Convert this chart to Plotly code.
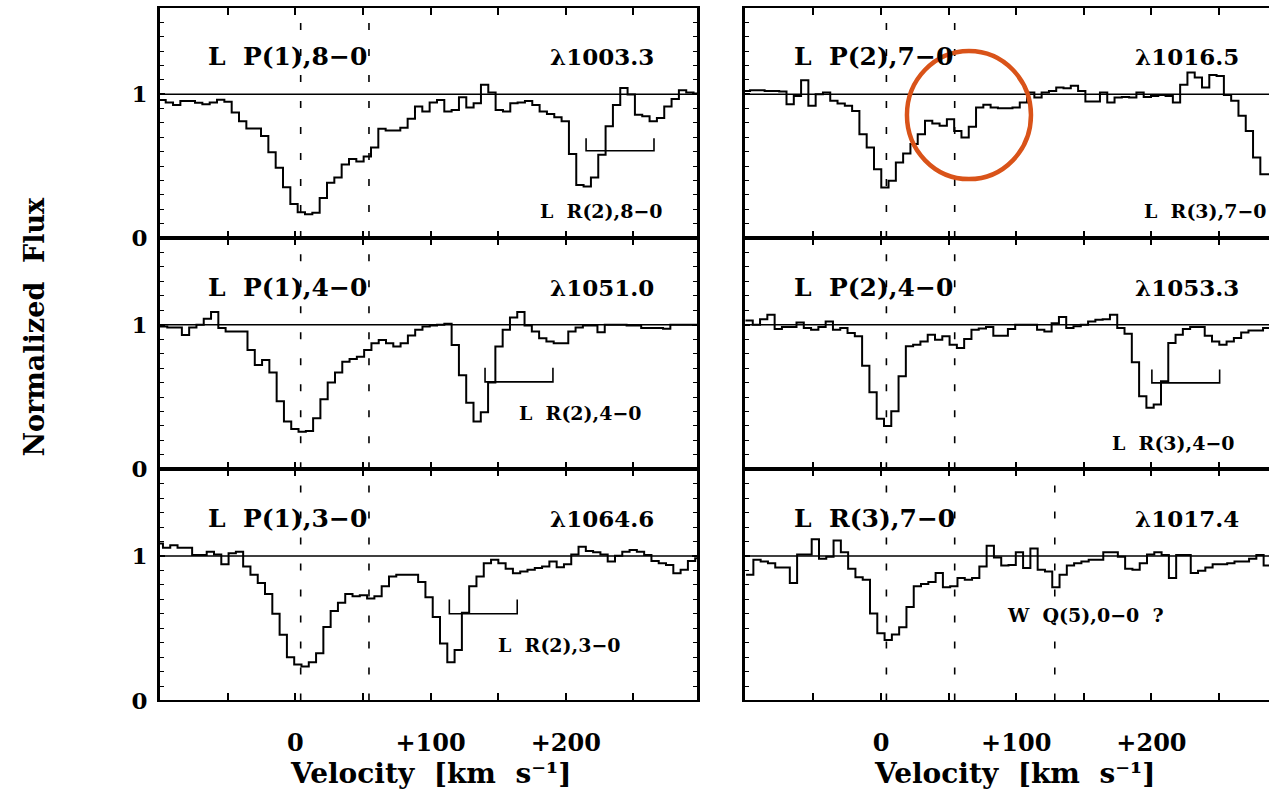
import plotly.graph_objects as go

FONT = "DejaVu Serif"
BLACK = "#000000"
CIRCLE_COLOR = "#D95319"

# ---------------- data ----------------
# velocity grid of each panel: first bin edge [km/s] and bin width [km/s]
tl_v0, tl_dv = -101.2, 5.42
ml_v0, ml_dv = -100.0, 5.39
bl_v0, bl_dv = -103.2, 5.39
tr_v0, tr_dv = -102.2, 5.39
mr_v0, mr_dv = -100.2, 5.39
br_v0, br_dv = -99.75, 5.39

# normalized flux per bin
tl_flux = [0.959, 0.943, 0.925, 0.952, 0.952, 0.941, 0.93, 0.943, 0.962, 0.948,
           0.872, 0.812, 0.762, 0.762, 0.71, 0.596, 0.489, 0.353, 0.237, 0.18,
           0.165, 0.176, 0.278, 0.385, 0.421, 0.512, 0.55, 0.533, 0.567, 0.63,
           0.76, 0.748, 0.748, 0.766, 0.83, 0.914, 0.88, 0.943, 0.959, 0.88,
           0.891, 0.978, 0.907, 0.937, 1.066, 1.012, 0.891, 0.88, 0.937, 0.943,
           0.953, 0.925, 0.88, 0.862, 0.839, 0.812, 0.585, 0.369, 0.358, 0.421,
           0.58, 0.778, 0.925, 1.043, 0.998, 0.857, 0.846, 0.812, 0.834, 0.914,
           0.966, 1.027, 1.011, 1.005]
ml_flux = [0.988, 0.981, 0.981, 0.93, 0.981, 1.0, 1.042, 1.088, 0.977, 0.953,
           0.953, 0.953, 0.826, 0.721, 0.756, 0.67, 0.47, 0.33, 0.279, 0.26,
           0.265, 0.353, 0.484, 0.6, 0.67, 0.744, 0.763, 0.779, 0.826, 0.872,
           0.895, 0.872, 0.849, 0.872, 0.926, 0.965, 0.988, 0.995, 1.0, 1.007,
           0.86, 0.651, 0.46, 0.33, 0.395, 0.6, 0.849, 0.965, 1.051, 1.088,
           0.995, 0.953, 0.907, 0.884, 0.872, 0.872, 0.953, 0.981, 0.995, 0.995,
           0.949, 1.0, 1.0, 1.0, 0.995, 0.995, 0.977, 0.977, 0.977, 0.972,
           1.0, 1.0, 1.0, 1.0]
bl_flux = [1.087, 1.057, 1.075, 1.057, 1.057, 1.007, 1.007, 1.03, 1.011, 0.943,
           1.018, 1.03, 0.927, 0.87, 0.813, 0.737, 0.6, 0.454, 0.299, 0.249,
           0.235, 0.265, 0.326, 0.509, 0.619, 0.676, 0.737, 0.721, 0.728, 0.705,
           0.721, 0.79, 0.858, 0.87, 0.87, 0.87, 0.82, 0.715, 0.578, 0.395,
           0.265, 0.349, 0.607, 0.79, 0.858, 0.95, 0.973, 0.95, 0.911, 0.881,
           0.893, 0.904, 0.916, 0.927, 0.961, 0.922, 0.943, 1.011, 1.064, 1.034,
           1.025, 1.011, 0.961, 1.002, 1.03, 1.041, 1.03, 1.007, 0.966, 0.95,
           0.938, 0.881, 0.904, 0.966, 0.984]
tr_flux = [1.023, 1.028, 1.028, 1.023, 1.023, 1.019, 0.931, 0.988, 1.097, 0.919,
           1.0, 1.012, 0.954, 0.935, 0.919, 0.884, 0.722, 0.63, 0.479, 0.352,
           0.398, 0.525, 0.588, 0.653, 0.722, 0.815, 0.796, 0.78, 0.826, 0.745,
           0.699, 0.773, 0.907, 0.926, 0.907, 0.903, 0.903, 0.907, 0.942, 1.012,
           0.977, 1.012, 1.023, 1.046, 1.042, 1.058, 1.023, 0.949, 0.949, 1.012,
           0.942, 0.977, 0.981, 0.977, 1.012, 0.981, 0.988, 0.995, 0.988, 0.942,
           1.065, 1.15, 1.116, 1.046, 1.134, 1.127, 0.995, 0.954, 0.85, 0.745,
           0.56, 0.444, 0.444]
mr_flux = [1.03, 1.0, 1.039, 1.069, 0.97, 0.984, 0.984, 1.016, 0.977, 0.966,
           0.984, 1.023, 0.966, 0.977, 0.943, 0.92, 0.717, 0.533, 0.349, 0.299,
           0.402, 0.644, 0.851, 0.862, 0.885, 0.931, 0.897, 0.92, 0.862, 0.839,
           0.901, 0.966, 0.975, 0.984, 0.924, 0.924, 0.97, 1.0, 1.0, 1.0,
           0.966, 0.954, 1.011, 1.053, 0.977, 0.989, 1.0, 1.023, 1.034, 1.039,
           1.069, 0.977, 0.938, 0.74, 0.506, 0.425, 0.448, 0.609, 0.874, 0.931,
           0.97, 0.984, 0.984, 0.924, 0.885, 0.862, 0.885, 0.908, 0.947, 0.961,
           0.961, 0.977]
br_flux = [0.87, 0.973, 0.961, 0.95, 0.92, 0.92, 0.813, 1.011, 1.011, 1.116,
           0.98, 0.995, 1.107, 1.025, 0.911, 0.852, 0.836, 0.601, 0.465, 0.419,
           0.456, 0.506, 0.647, 0.79, 0.806, 0.82, 0.882, 0.784, 0.79, 0.847,
           0.836, 0.847, 0.927, 1.071, 0.989, 0.934, 0.938, 1.025, 0.916, 1.052,
           0.904, 0.893, 0.784, 0.87, 0.934, 0.95, 0.961, 0.973, 0.973, 1.025,
           1.025, 0.995, 0.911, 0.904, 0.95, 1.011, 1.025, 1.007, 0.847, 1.007,
           1.007, 0.882, 0.897, 0.92, 0.943, 0.943, 0.95, 0.961, 0.961, 0.98,
           1.007, 0.934]

# panel labels (order: TL, TR, ML, MR, BL, BR)
transitions = ["L\u00a0\u00a0P(1),8\u22120", "L\u00a0\u00a0P(2),7\u22120",
               "L\u00a0\u00a0P(1),4\u22120", "L\u00a0\u00a0P(2),4\u22120",
               "L\u00a0\u00a0P(1),3\u22120", "L\u00a0\u00a0R(3),7\u22120"]
wavelengths = ["\u03bb1003.3", "\u03bb1016.5", "\u03bb1051.0", "\u03bb1053.3",
               "\u03bb1064.6", "\u03bb1017.4"]

# blend labels
blend_text = ["L\u00a0\u00a0R(2),8\u22120", "L\u00a0\u00a0R(3),7\u22120",
              "L\u00a0\u00a0R(2),4\u22120", "L\u00a0\u00a0R(3),4\u22120",
              "L\u00a0\u00a0R(2),3\u22120", "W\u00a0\u00a0Q(5),0\u22120\u00a0\u00a0?"]
blend_v = [226.5, 193.2, 210.8, 216.6, 195.7, 151.0]
blend_f = [0.185, 0.19, 0.388, 0.184, 0.386, 0.592]
blend_anchor = ["center", "left", "center", "center", "center", "center"]

# blend markers (brackets): panel index (TL, ML, MR, BL), v start, v end, level, tick top
bracket_panel = [0, 2, 3, 4]
bracket_v0 = [215.0, 140.3, 200.3, 113.9]
bracket_v1 = [265.2, 190.5, 250.4, 164.1]
bracket_f = [0.607, 0.605, 0.598, 0.60]
bracket_top = [0.693, 0.702, 0.69, 0.699]

# component velocities (dashed lines)
component_v = [4.0, 54.5]
extra_component_v = 128.5   # only in the L R(3),7-0 panel

# highlight ellipse in the L P(2),7-0 panel
ellipse_v = [19.2, 110.9]
ellipse_f = [0.41, 1.30]

x_tick_vals = [0, 100, 200]
x_tick_text = ["0", "+100", "+200"]
y_tick_vals = [0, 1]
y_tick_text = ["0", "1"]

# ---------------- layout geometry ----------------
W, H = 1269, 802
col_dom = [[160 / W, 697 / W], [745 / W, 1.0]]
row_dom = [[1 - 242 / H, 1 - 8 / H], [1 - 477 / H, 1 - 242 / H], [1 - 712 / H, 1 - 477 / H]]
x_ranges = [[-100, 297], [-100.55, 286.9]]

panels = [
    (tl_v0, tl_dv, tl_flux),
    (tr_v0, tr_dv, tr_flux),
    (ml_v0, ml_dv, ml_flux),
    (mr_v0, mr_dv, mr_flux),
    (bl_v0, bl_dv, bl_flux),
    (br_v0, br_dv, br_flux),
]


def axis_names(n):
    xa = "x" if n == 1 else f"x{n}"
    ya = "y" if n == 1 else f"y{n}"
    return xa, ya


fig = go.Figure()
shapes = []
annotations = []
layout_axes = {}

for i, (v0, dv, flux) in enumerate(panels):
    n = i + 1
    row, col = i // 2, i % 2
    xa, ya = axis_names(n)
    xkey = "xaxis" if n == 1 else f"xaxis{n}"
    ykey = "yaxis" if n == 1 else f"yaxis{n}"

    edges = [v0 + k * dv for k in range(len(flux) + 1)]
    fig.add_trace(go.Scatter(
        x=edges, y=list(flux) + [flux[-1]], mode="lines",
        line=dict(color=BLACK, width=2, shape="hv"),
        xaxis=xa, yaxis=ya, showlegend=False, hoverinfo="skip"))

    bottom = row == 2
    layout_axes[xkey] = dict(
        domain=col_dom[col], anchor=ya, range=x_ranges[col],
        showline=True, linewidth=2.4, linecolor=BLACK, mirror="allticks",
        ticks="inside", ticklen=7, tickwidth=1.5, tickcolor=BLACK,
        tickvals=x_tick_vals, ticktext=x_tick_text,
        minor=dict(tickvals=[-50, 50, 150, 250], ticks="inside", ticklen=7,
                   tickwidth=1.5, tickcolor=BLACK),
        showticklabels=bottom, ticklabelstandoff=20,
        tickfont=dict(family=FONT, size=24, color=BLACK, weight="bold"),
        showgrid=False, zeroline=False, fixedrange=True)
    layout_axes[ykey] = dict(
        domain=row_dom[row], anchor=xa, range=[0, 1.6],
        showline=True, linewidth=2.6, linecolor=BLACK,
        mirror="allticks" if col == 0 else False,
        ticks="inside", ticklen=5, tickwidth=1.5, tickcolor=BLACK,
        tickvals=y_tick_vals, ticktext=y_tick_text,
        minor=dict(dtick=0.1, tick0=0, ticks="inside", ticklen=4, tickwidth=1.2, tickcolor=BLACK),
        showticklabels=(col == 0), ticklabelstandoff=5,
        tickfont=dict(family=FONT, size=23, color=BLACK, weight="bold"),
        showgrid=False, zeroline=False, fixedrange=True)

    # continuum
    shapes.append(dict(type="line", xref=f"{xa} domain", yref=ya, x0=0, x1=1, y0=1, y1=1,
                       line=dict(color=BLACK, width=1.5)))
    # component velocities
    vlist = list(component_v) + ([extra_component_v] if n == 6 else [])
    for v in vlist:
        shapes.append(dict(type="line", xref=xa, yref=ya, x0=v, x1=v, y0=0, y1=1.6,
                           line=dict(color=BLACK, width=1.6, dash="7px,19px")))

    annotations.append(dict(xref=xa, yref=ya, x=-66, y=1.26, text=transitions[i],
                            showarrow=False, xanchor="left", yanchor="middle",
                            font=dict(family=FONT, size=25, color=BLACK, weight="bold")))
    annotations.append(dict(xref=xa, yref=ya, x=266.5, y=1.26, text=wavelengths[i],
                            showarrow=False, xanchor="right", yanchor="middle",
                            font=dict(family=FONT, size=23, color=BLACK, weight="bold")))
    annotations.append(dict(xref=xa, yref=ya, x=blend_v[i], y=blend_f[i], text=blend_text[i],
                            showarrow=False, xanchor=blend_anchor[i], yanchor="middle",
                            font=dict(family=FONT, size=19, color=BLACK, weight="bold")))

# brackets
for p, a, b, f, t in zip(bracket_panel, bracket_v0, bracket_v1, bracket_f, bracket_top):
    xa, ya = axis_names(p + 1)
    fig.add_trace(go.Scatter(x=[a, a, b, b], y=[t, f, f, t], mode="lines",
                             line=dict(color=BLACK, width=1.6),
                             xaxis=xa, yaxis=ya, showlegend=False, hoverinfo="skip"))

# highlight ellipse
shapes.append(dict(type="circle", xref="x2", yref="y2",
                   x0=ellipse_v[0], x1=ellipse_v[1], y0=ellipse_f[0], y1=ellipse_f[1],
                   line=dict(color=CIRCLE_COLOR, width=4.5), layer="above"))

# axis titles
for xa, xv in (("x5", 100), ("x6", 99)):
    annotations.append(dict(xref=xa, yref="paper", x=xv, y=1 - 786 / H,
                            text="Velocity\u00a0\u00a0[km\u00a0\u00a0s\u207b\u00b9]",
                            showarrow=False, xanchor="center", yanchor="middle",
                            font=dict(family=FONT, size=28, color=BLACK, weight="bold")))
annotations.append(dict(xref="paper", yref="paper", x=35 / W, y=1 - 332 / H,
                        text="Normalized\u00a0\u00a0Flux", textangle=-90, showarrow=False,
                        xanchor="center", yanchor="middle",
                        font=dict(family=FONT, size=27, color=BLACK, weight="bold")))

fig.update_layout(
    width=W, height=H, autosize=False,
    margin=dict(l=0, r=0, t=0, b=0, pad=0),
    paper_bgcolor="white", plot_bgcolor="white",
    font=dict(family=FONT, color=BLACK),
    shapes=shapes, annotations=annotations,
    **layout_axes,
)

fig.write_html("out.html")
